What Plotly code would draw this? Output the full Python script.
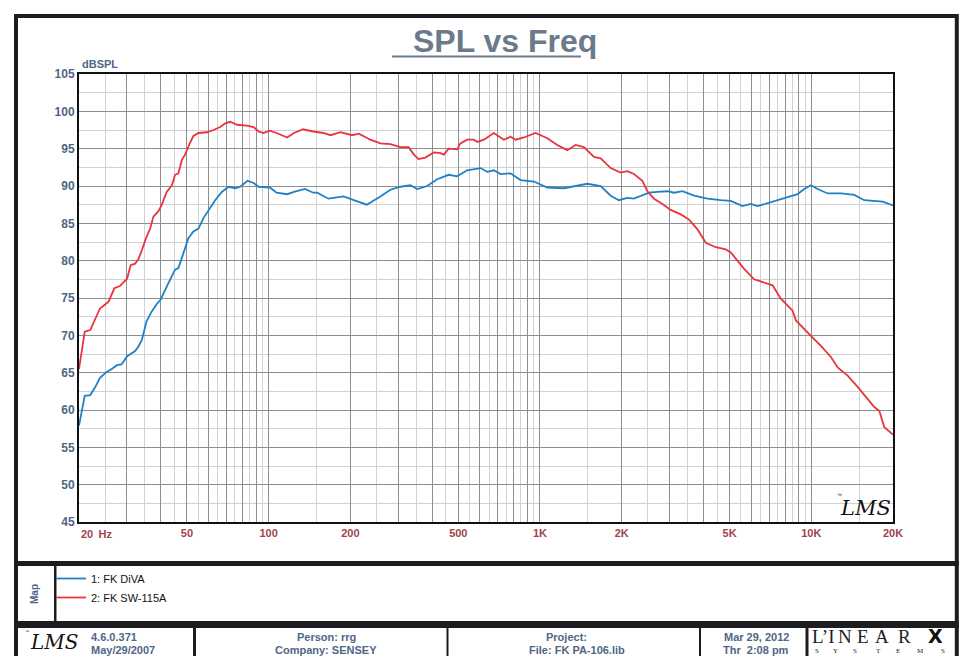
import plotly.graph_objects as go

# ---------------- data ----------------
freq_diva = [20, 20.5, 21.0, 22.0, 22.9, 23.9, 25.3, 26.4, 27.6, 28.7, 30.1, 32.2, 33.1, 34.1,
             35.5, 37.1, 38.7, 40.0, 41.2, 42.7, 45.2, 46.5, 48.5, 50.6, 52.8, 55.1, 57.5, 60.0,
             63.5, 67.2, 71.1, 75.3, 78.6, 83.6, 88.0, 91.8, 101, 107, 117, 124, 136, 146, 151,
             166, 184, 189, 206, 230, 258, 281, 306, 333, 353, 384, 418, 461, 495, 539, 604, 639,
             676, 716, 779, 848, 950, 1064, 1225, 1372, 1494, 1674, 1822, 1954, 2099, 2220, 2418,
             2522, 2709, 2950, 3120, 3350, 3698, 4143, 4638, 5050, 5578, 5984, 6334, 6896, 7508,
             8174, 8900, 9414, 9964, 10548, 11482, 12858, 14396, 15672, 17062, 18324, 20000]
spl_diva = [57.9, 60.1, 61.9, 62.0, 63.0, 64.3, 65.1, 65.5, 66.0, 66.1, 67.2, 67.9, 68.5, 69.4,
            71.9, 73.2, 74.2, 74.8, 75.7, 77.0, 78.8, 79.0, 81.0, 83.0, 83.9, 84.3, 85.7, 86.8,
            88.1, 89.2, 89.9, 89.7, 89.9, 90.7, 90.4, 89.9, 89.8, 89.1, 88.9, 89.2, 89.6, 89.1, 89.1,
            88.3, 88.6, 88.6, 88.1, 87.5, 88.6, 89.5, 89.9, 90.1, 89.6, 90.0, 90.9, 91.5, 91.3, 92.1, 92.4, 91.9,
            92.1, 91.6, 91.7, 90.8, 90.6, 89.8, 89.7, 90.1, 90.3, 90.0, 88.7, 88.1, 88.4, 88.3, 88.8,
            89.1, 89.2, 89.3, 89.1, 89.3, 88.7, 88.3, 88.1, 88.0, 87.3, 87.6, 87.3, 87.7, 88.2,
            88.5, 88.9, 89.6, 90.1, 89.6, 89.0, 89.0, 88.8, 88.1, 88.0, 87.9, 87.4]

freq_sw115a = [20, 21.0, 22.0, 22.6, 23.9, 24.9, 25.7, 27.0, 28.3, 30.1, 31.0, 32.2, 33.1, 34.1,
               35.3, 36.6, 37.6, 39.2, 40.4, 42.1, 44.0, 45.2, 46.5, 47.9, 49.2, 50.9, 52.8, 55.1,
               59.2, 62.6, 66.3, 69.2, 72.2, 76.4, 83.1, 88.0, 91.8, 95.7, 101, 107, 117, 124, 134,
               146, 159, 169, 184, 203, 215, 237, 258, 281, 306, 328, 343, 357, 378, 406, 430, 442,
               461, 495, 509, 539, 570, 587, 621, 676, 736, 779, 813, 872, 963, 1064, 1158, 1261,
               1353, 1452, 1581, 1674, 1822, 1983, 2099, 2220, 2384, 2488, 2632, 2826, 3032, 3302,
               3544, 3805, 4084, 4446, 4840, 5050, 5346, 5654, 6154, 6700, 7196, 7722, 8174, 8532,
               8774, 9414, 10110, 10848, 11810, 12504, 13610, 14816, 15902, 17062, 17802, 18576, 20000]
spl_sw115a = [65.5, 70.5, 70.7, 71.7, 73.6, 74.1, 74.5, 76.3, 76.6, 77.6, 79.4, 79.6, 80.2, 81.4,
              83.0, 84.3, 85.9, 86.6, 87.5, 89.2, 90.1, 91.5, 91.7, 93.5, 94.2, 95.5, 96.7, 97.1,
              97.2, 97.5, 97.9, 98.4, 98.6, 98.2, 98.1, 97.9, 97.3, 97.1, 97.4, 97.1, 96.5, 97.1, 97.6,
              97.3, 97.1, 96.8, 97.2, 96.8, 97.0, 96.2, 95.7, 95.6, 95.2, 95.2, 94.2, 93.6, 93.8, 94.5, 94.4, 94.2,
              95.0, 94.9, 95.7, 96.2, 96.2, 95.9, 96.2, 97.1, 96.2, 96.6, 96.2, 96.5, 97.1, 96.4, 95.5, 94.8,
              95.5, 95.2, 93.9, 93.7, 92.4, 91.8, 92.0, 91.6, 90.7, 89.3, 88.3, 87.6, 86.8, 86.2,
              85.5, 84.2, 82.4, 81.8, 81.5, 81.1, 80.0, 78.9, 77.5, 77.1, 76.7, 74.9, 74.0, 73.3,
              72.0, 70.8, 69.7, 68.6, 67.1, 65.7, 64.6, 63.1, 61.7, 60.4, 59.9, 57.7, 56.7]

series_names = ["1: FK DiVA", "2: FK SW-115A"]
x_label_vals = [50, 100, 200, 500, 1000, 2000, 5000, 10000, 20000]
x_label_text = ["50", "100", "200", "500", "1K", "2K", "5K", "10K", "20K"]
y_tick_vals = [45, 50, 55, 60, 65, 70, 75, 80, 85, 90, 95, 100, 105]

# ---------------- layout helpers ----------------
# The page body has an 8px margin, so the figure is drawn 8px smaller and
# positions below are given in window pixels (converted to paper coordinates).
OFF = 8
W, H = 967 - OFF, 656 - OFF
L, R, T, B = 79, 893, 74, 522          # plot area in window pixels
def px(x):
    return (x - L) / (R - L)
def py(y):
    return (B - y) / (B - T)

decades = [10, 100, 1000, 10000]
x_major = sorted({m * d for d in decades for m in range(1, 10) if 20 <= m * d <= 20000})
x_minor = sorted({(m + 0.5) * d for d in decades for m in range(1, 10) if 20 <= (m + 0.5) * d <= 20000})
label_map = dict(zip(x_label_vals, x_label_text))
x_major_text = [label_map.get(v, "") for v in x_major]

FONT = "Liberation Sans, Arial, sans-serif"
BLUEGRAY = "#4f6685"
TICKRED = "#a0434b"
FRAME = "#1d1d21"

fig = go.Figure()
fig.add_trace(go.Scatter(x=freq_diva, y=spl_diva, mode="lines", name=series_names[0],
                         line=dict(color="#1f80c6", width=1.8)))
fig.add_trace(go.Scatter(x=freq_sw115a, y=spl_sw115a, mode="lines", name=series_names[1],
                         line=dict(color="#ea333f", width=1.8)))

fig.update_xaxes(type="log", range=[1.30103, 4.30103],
                 tickmode="array", tickvals=x_major, ticktext=x_major_text,
                 tickfont=dict(family=FONT, size=11, color=TICKRED, weight="bold"),
                 showgrid=True, gridcolor="#8e8e8e", gridwidth=1.4,
                 minor=dict(tickmode="array", tickvals=x_minor, showgrid=True,
                            gridcolor="#d2d2d2", gridwidth=1.4),
                 showline=True, linecolor="#111111", linewidth=2, mirror=True,
                 ticks="", zeroline=False)
fig.update_yaxes(range=[45, 105], tickmode="array", tickvals=y_tick_vals,
                 tickfont=dict(family=FONT, size=12, color=BLUEGRAY, weight="bold"),
                 showgrid=True, gridcolor="#8e8e8e", gridwidth=1.4,
                 minor=dict(dtick=2.5, showgrid=True, gridcolor="#d2d2d2", gridwidth=1.4),
                 showline=True, linecolor="#111111", linewidth=2, mirror=True,
                 ticks="", zeroline=False)

shapes = []
shapes.append(dict(type="rect", xref="paper", yref="paper", x0=px(16), x1=px(956.8),
                   y0=py(16), y1=py(720), line=dict(color=FRAME, width=4), layer="above"))
for (ya, yb) in [(561, 566), (621, 628)]:
    shapes.append(dict(type="rect", xref="paper", yref="paper", x0=px(14), x1=px(958.8),
                       y0=py(ya), y1=py(yb), fillcolor=FRAME, line=dict(width=0), layer="above"))
shapes.append(dict(type="rect", xref="paper", yref="paper", x0=px(54), x1=px(56.5),
                   y0=py(566), y1=py(621), fillcolor=FRAME, line=dict(width=0), layer="above"))
for (xa, xb) in [(193, 196), (446.5, 448.5), (699, 701), (805.5, 808.5)]:
    shapes.append(dict(type="rect", xref="paper", yref="paper", x0=px(xa), x1=px(xb),
                       y0=py(628), y1=py(700), fillcolor=FRAME, line=dict(width=0), layer="above"))
# title underline
shapes.append(dict(type="line", xref="paper", yref="paper", x0=px(392), x1=px(581),
                   y0=py(56.5), y1=py(56.5), line=dict(color="#6b7b8c", width=2)))

ann = []
def text(x, y, s, size=11, color=BLUEGRAY, anchor="center", bold=True, family=FONT, angle=0,
         style="normal"):
    ann.append(dict(x=px(x), y=py(y), xref="paper", yref="paper", text=s, showarrow=False,
                    xanchor=anchor, yanchor="middle", textangle=angle,
                    font=dict(family=family, size=size, color=color,
                              weight="bold" if bold else "normal", style=style)))

text(505, 41, "SPL vs Freq", size=32, color="#6b7b8c")
text(80, 64, "dBSPL", size=11, anchor="left")
ann.append(dict(x=1.30103, y=py(533.5), xref="x", yref="paper", text="20\u00a0\u2009Hz",
                showarrow=False, xanchor="left", yanchor="middle",
                font=dict(family=FONT, size=11, color=TICKRED, weight="bold")))
# LMS watermark in plot
text(865, 508, "LMS", size=21, color="#111111", bold=False, family="DejaVu Serif", style="italic")
text(839, 495, "\u2122", size=5, color="#111111", bold=False)
# Map label
text(34, 594, "Map", size=10, angle=-90)
# bottom bar
text(54, 642, "LMS", size=20, color="#111111", bold=False, family="DejaVu Serif", style="italic")
text(27, 631, "\u2122", size=4, color="#111111", bold=False)
text(89, 637, "4.6.0.371", anchor="left")
text(89, 650, "May/29/2007", anchor="left")
text(326, 637, "Person: rrg")
text(326, 650, "Company: SENSEY")
text(566, 637, "Project:")
text(577, 650, "File: FK PA-106.lib")
text(756, 637, "Mar 29, 2012")
text(756, 650, "Thr\u00a0\u00a02:08 pm")
# LINEAR X logo
for ch, cx in [("L\u2019I", 823), ("N", 845), ("E", 863), ("A", 882), ("R", 904)]:
    text(cx, 636, ch, size=19, color="#222222", bold=False, family="Liberation Serif")
text(935, 636, "X", size=19, color="#111111", bold=True, family="DejaVu Sans")
for ch, cx in [("S", 817), ("Y", 835), ("S", 855), ("T", 878), ("E", 898), ("M", 920), ("S", 943)]:
    text(cx, 651, ch, size=7, color="#222222", bold=False, family="Liberation Serif")

fig.update_layout(
    width=W, height=H,
    margin=dict(l=L - OFF, r=W - (R - OFF), t=T - OFF, b=H - (B - OFF), autoexpand=False),
    paper_bgcolor="white", plot_bgcolor="white",
    shapes=shapes, annotations=ann,
    showlegend=True,
    legend=dict(x=px(51), y=py(564), xanchor="left", yanchor="top",
                font=dict(family=FONT, size=11, color="#111111"),
                bgcolor="rgba(0,0,0,0)", borderwidth=0, tracegroupgap=0),
    font=dict(family=FONT),
)

fig.write_html("out.html")
